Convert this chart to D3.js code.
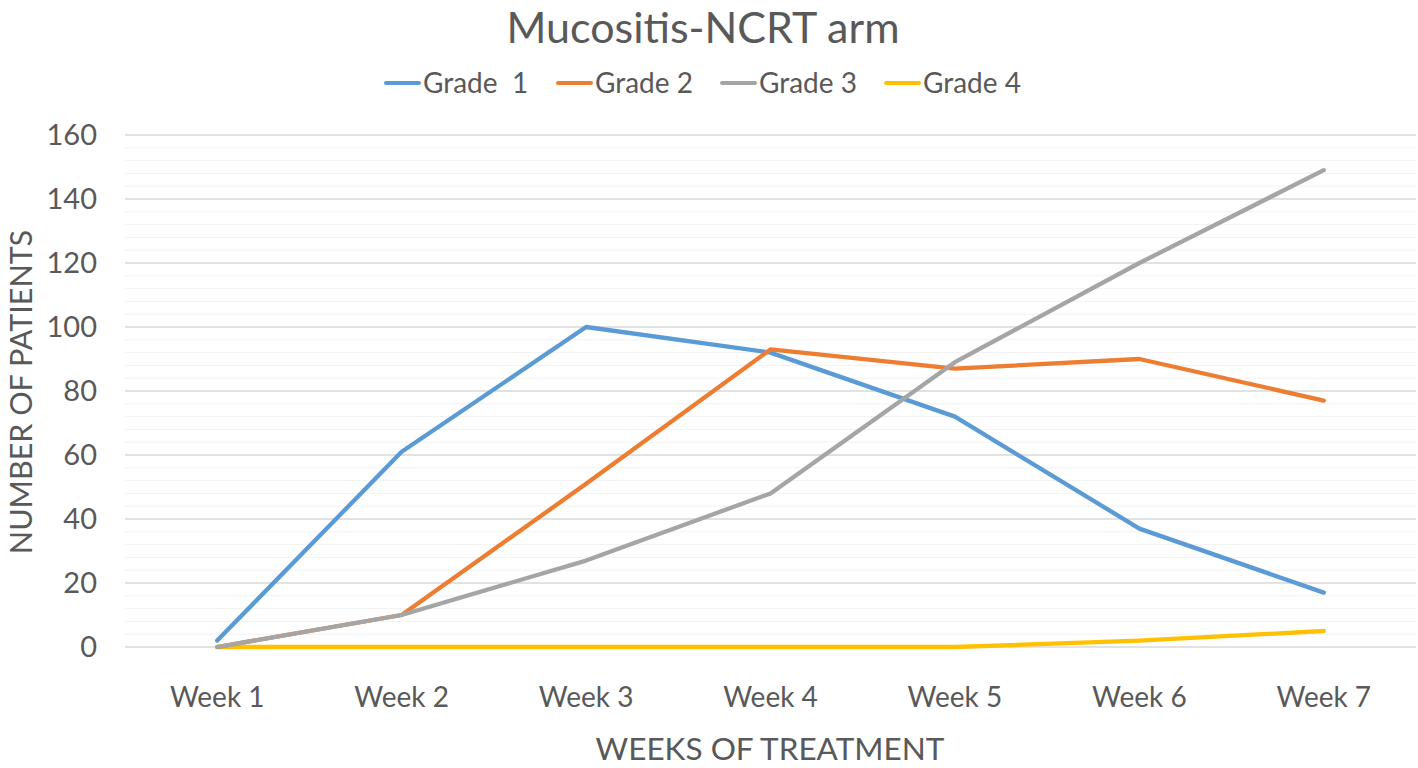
<!DOCTYPE html>
<html><head><meta charset="utf-8">
<script src="https://cdn.jsdelivr.net/npm/d3@7"></script>
<style>body{margin:0;background:#fff;} text{font-family:Lato,"Open Sans",sans-serif;fill:#595959;}</style>
</head><body>
<svg id="c" width="1418" height="768"></svg>
<script>
const weeks = ["Week 1","Week 2","Week 3","Week 4","Week 5","Week 6","Week 7"];
const grade1 = [2, 61, 100, 92, 72, 37, 17];
const grade2 = [0, 10, 51, 93, 87, 90, 77];
const grade3 = [0, 10, 27, 48, 89, 120, 149];
const grade4 = [0, 0, 0, 0, 0, 2, 5];
const seriesNames = ["Grade  1", "Grade 2", "Grade 3", "Grade 4"];
const colors = ["#5B9BD5", "#ED7D31", "#A5A5A5", "#FFC000"];
const yTicks = [0, 20, 40, 60, 80, 100, 120, 140, 160];

(function(){
const series = [grade1, grade2, grade3, grade4];
const svg = d3.select("#c");
const pLeft = 125, pRight = 1416, pTop = 135, pBottom = 647;
const x = d3.scaleBand().domain(weeks).range([pLeft, pRight]);
const y = d3.scaleLinear().domain([0, 160]).range([pBottom, pTop]);

// minor grid
const minor = d3.range(0, 161, 4).filter(v => v % 20 !== 0);
svg.append("g").selectAll("line").data(minor).join("line")
  .attr("x1", pLeft).attr("x2", pRight)
  .attr("y1", d => y(d)).attr("y2", d => y(d))
  .attr("stroke", "#f2f2f2").attr("stroke-width", 1);
// major grid
svg.append("g").selectAll("line").data(yTicks).join("line")
  .attr("x1", pLeft).attr("x2", pRight)
  .attr("y1", d => y(d)).attr("y2", d => y(d))
  .attr("stroke", "#d9d9d9").attr("stroke-width", 1.3);

// y axis labels
const ya = svg.append("g").attr("transform", `translate(${pLeft},0)`)
  .call(d3.axisLeft(y).tickValues(yTicks).tickSize(0).tickPadding(28));
ya.select(".domain").remove();
ya.selectAll("text").style("font-size", "29px").style("font-family", "Lato,'Open Sans',sans-serif").attr("fill", "#595959");

// x axis labels
const xa = svg.append("g").attr("transform", `translate(0,${pBottom})`)
  .call(d3.axisBottom(x).tickSize(0).tickPadding(40));
xa.select(".domain").remove();
xa.selectAll("text").style("font-size", "28px").style("font-family", "Lato,'Open Sans',sans-serif").attr("fill", "#595959");

// lines
const line = d3.line().x((d, i) => x(weeks[i]) + x.bandwidth() / 2).y(d => y(d));
[3, 0, 1, 2].forEach(k => {
  svg.append("path").datum(series[k]).attr("d", line)
    .attr("fill", "none").attr("stroke", colors[k]).attr("stroke-width", 4.3)
    .attr("stroke-linecap", "round").attr("stroke-linejoin", "round");
});

// title
svg.append("text").attr("x", 703).attr("y", 43).attr("text-anchor", "middle")
  .style("font-size", "43px").text("Mucositis-NCRT arm");

// legend
const legX = [386, 558, 722, 886];
seriesNames.forEach((n, i) => {
  svg.append("line").attr("x1", legX[i]).attr("x2", legX[i] + 33).attr("y1", 83).attr("y2", 83)
    .attr("stroke", colors[i]).attr("stroke-width", 4).attr("stroke-linecap", "round");
  svg.append("text").attr("x", legX[i] + 37).attr("y", 93).style("font-size", "28px")
    .style("white-space", "pre").attr("xml:space", "preserve").text(n);
});

// axis titles
svg.append("text").attr("x", 770).attr("y", 760).attr("text-anchor", "middle")
  .style("font-size", "31.5px").text("WEEKS OF TREATMENT");
svg.append("text").attr("transform", "translate(32,392) rotate(-90)").attr("text-anchor", "middle")
  .style("font-size", "30.5px").text("NUMBER OF PATIENTS");
})();
</script>
</body></html>
